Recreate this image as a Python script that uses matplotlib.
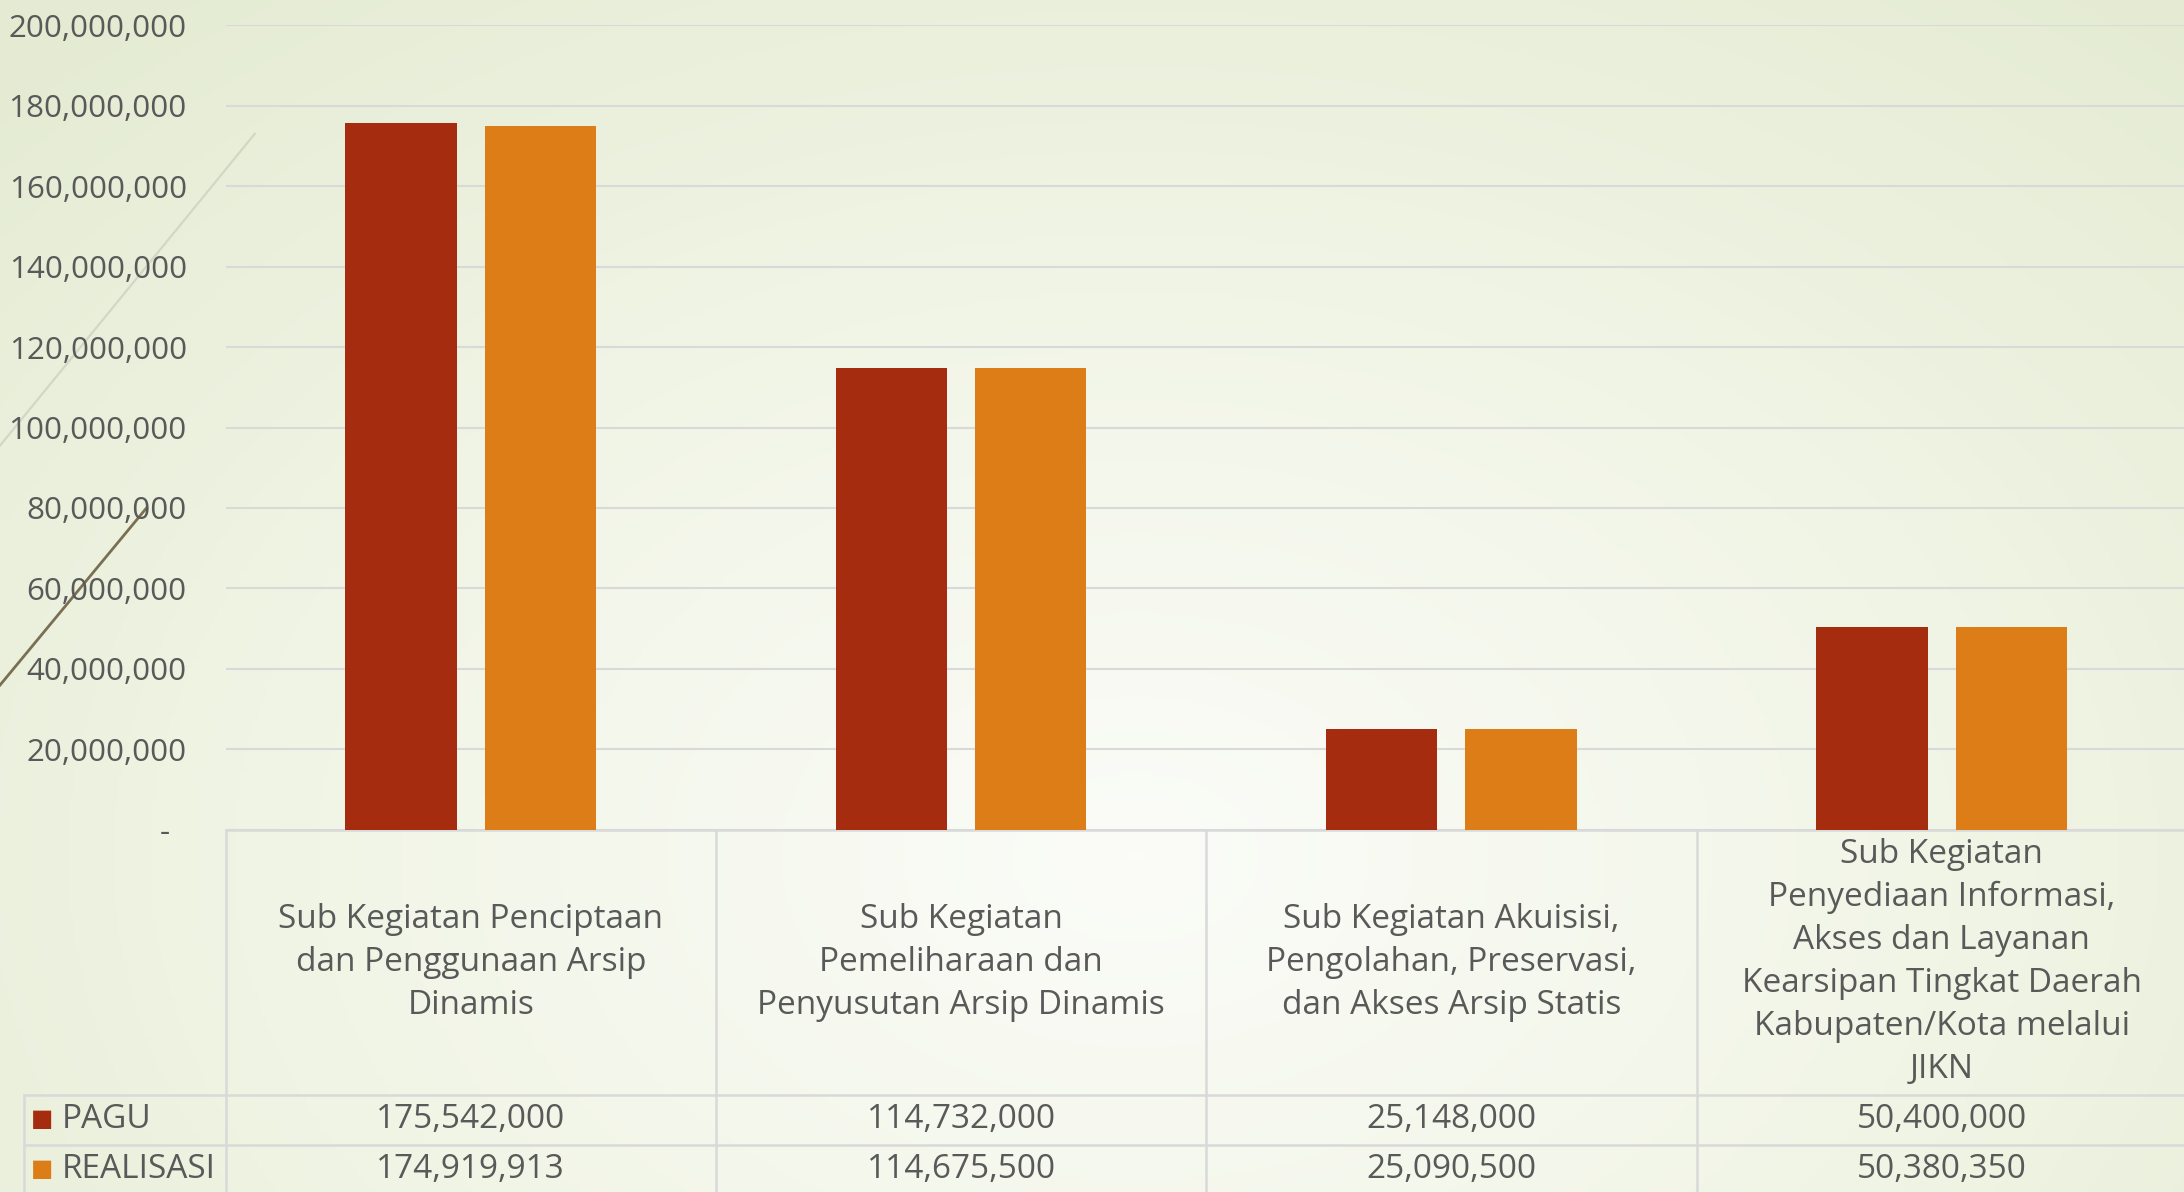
import numpy as np
import matplotlib.pyplot as plt
from matplotlib.colors import LinearSegmentedColormap

# warna
merah = '#a52c0f'
oranye = '#dd7d17'
abu = '#595959'
garis = '#d9d9d9'

plt.rcParams['font.family'] = ['Open Sans', 'DejaVu Sans']

# data
kategori = [
    "Sub Kegiatan Penciptaan\ndan Penggunaan Arsip\nDinamis",
    "Sub Kegiatan\nPemeliharaan dan\nPenyusutan Arsip Dinamis",
    "Sub Kegiatan Akuisisi,\nPengolahan, Preservasi,\ndan Akses Arsip Statis",
    "Sub Kegiatan\nPenyediaan Informasi,\nAkses dan Layanan\nKearsipan Tingkat Daerah\nKabupaten/Kota melalui\nJIKN",
]
pagu = [175542000, 114732000, 25148000, 50400000]
realisasi = [174919913, 114675500, 25090500, 50380350]
seri = ["PAGU", "REALISASI"]
yticks = list(range(0, 200000001, 20000000))

W, H = 1568, 856  # ukuran referensi (px)

fig = plt.figure(figsize=(10.92, 5.96), dpi=200)

# latar belakang gradien
bg = fig.add_axes([0, 0, 1, 1], zorder=-10)
yy, xx = np.mgrid[0:1:300j, 0:1:500j]
r = np.sqrt(((xx - 0.52) / 0.75) ** 2 + ((yy - 0.72) / 0.95) ** 2)
r = np.clip(r, 0, 1)
cmap = LinearSegmentedColormap.from_list('bg', ['#fbfcf8', '#f1f5e6', '#e4ebd2'])
bg.imshow(r, cmap=cmap, aspect='auto', extent=[0, 1, 0, 1], origin='upper')
bg.set_xlim(0, 1)
bg.set_ylim(0, 1)
bg.axis('off')

# garis dekorasi
bg.plot([0 / W, 105 / W], [1 - 492 / H, 1 - 365 / H], color='#7a6f52', lw=1.0)
bg.plot([0 / W, 183 / W], [1 - 320 / H, 1 - 96 / H], color='#d4d6c6', lw=0.8)

# grafik batang
kiri, kanan = 162 / W, 1570 / W
bawah, atas = 1 - 596 / H, 1 - 18 / H
ax = fig.add_axes([kiri, bawah, kanan - kiri, atas - bawah])
ax.set_facecolor('none')

x = np.arange(len(kategori))
lebar = 80 / 352
geser = 50 / 352
ax.bar(x - geser, pagu, lebar, color=merah, zorder=3)
ax.bar(x + geser, realisasi, lebar, color=oranye, zorder=3)

ax.set_xlim(-0.5, len(kategori) - 0.5)
ax.set_ylim(0, 200000000)
ax.set_yticks(yticks)
ax.set_yticklabels(['{:,}'.format(v) if v else '-  ' for v in yticks])
ax.tick_params(axis='y', length=0, pad=14, labelsize=11.3, labelcolor=abu)
ax.set_xticks([])
ax.grid(axis='y', color=garis, lw=0.75, zorder=0)
for s in ax.spines.values():
    s.set_visible(False)

# tabel data
tr = ax.get_xaxis_transform()
skala = 596 - 18
y_kepala = -(786 - 596) / skala
y_pagu = -(822 - 596) / skala
y_real = -(858 - 596) / skala
x_leg = -0.5 - (162 - 17) / 352
x_akhir = len(kategori) - 0.5

kw = dict(color=garis, lw=0.9, transform=tr, clip_on=False, zorder=1)
ax.plot([-0.5, x_akhir], [0, 0], **kw)
ax.plot([x_leg, x_akhir], [y_kepala, y_kepala], **kw)
ax.plot([x_leg, x_akhir], [y_pagu, y_pagu], **kw)
for b in np.arange(-0.5, len(kategori) - 0.4, 1.0):
    ax.plot([b, b], [0, y_real - 0.05], **kw)
ax.plot([x_leg, x_leg], [y_kepala, y_real - 0.05], **kw)

for i, k in enumerate(kategori):
    ax.text(i, y_kepala / 2, k, transform=tr, ha='center', va='center',
            fontsize=12, color=abu, linespacing=1.4, clip_on=False)

baris = [(y_kepala + y_pagu) / 2, (y_pagu + y_real) / 2]
for nama, nilai, warna, yb in zip(seri, [pagu, realisasi], [merah, oranye], baris):
    ax.text(x_leg + 0.015, yb, '\u25A0', transform=tr, ha='left', va='center',
            fontsize=8.5, color=warna, clip_on=False)
    ax.text(x_leg + 0.078, yb, nama, transform=tr, ha='left', va='center',
            fontsize=12, color=abu, clip_on=False)
    for i, v in enumerate(nilai):
        ax.text(i, yb, '{:,}'.format(v), transform=tr, ha='center', va='center',
                fontsize=12, color=abu, clip_on=False)

fig.savefig('out.png', dpi=200)
